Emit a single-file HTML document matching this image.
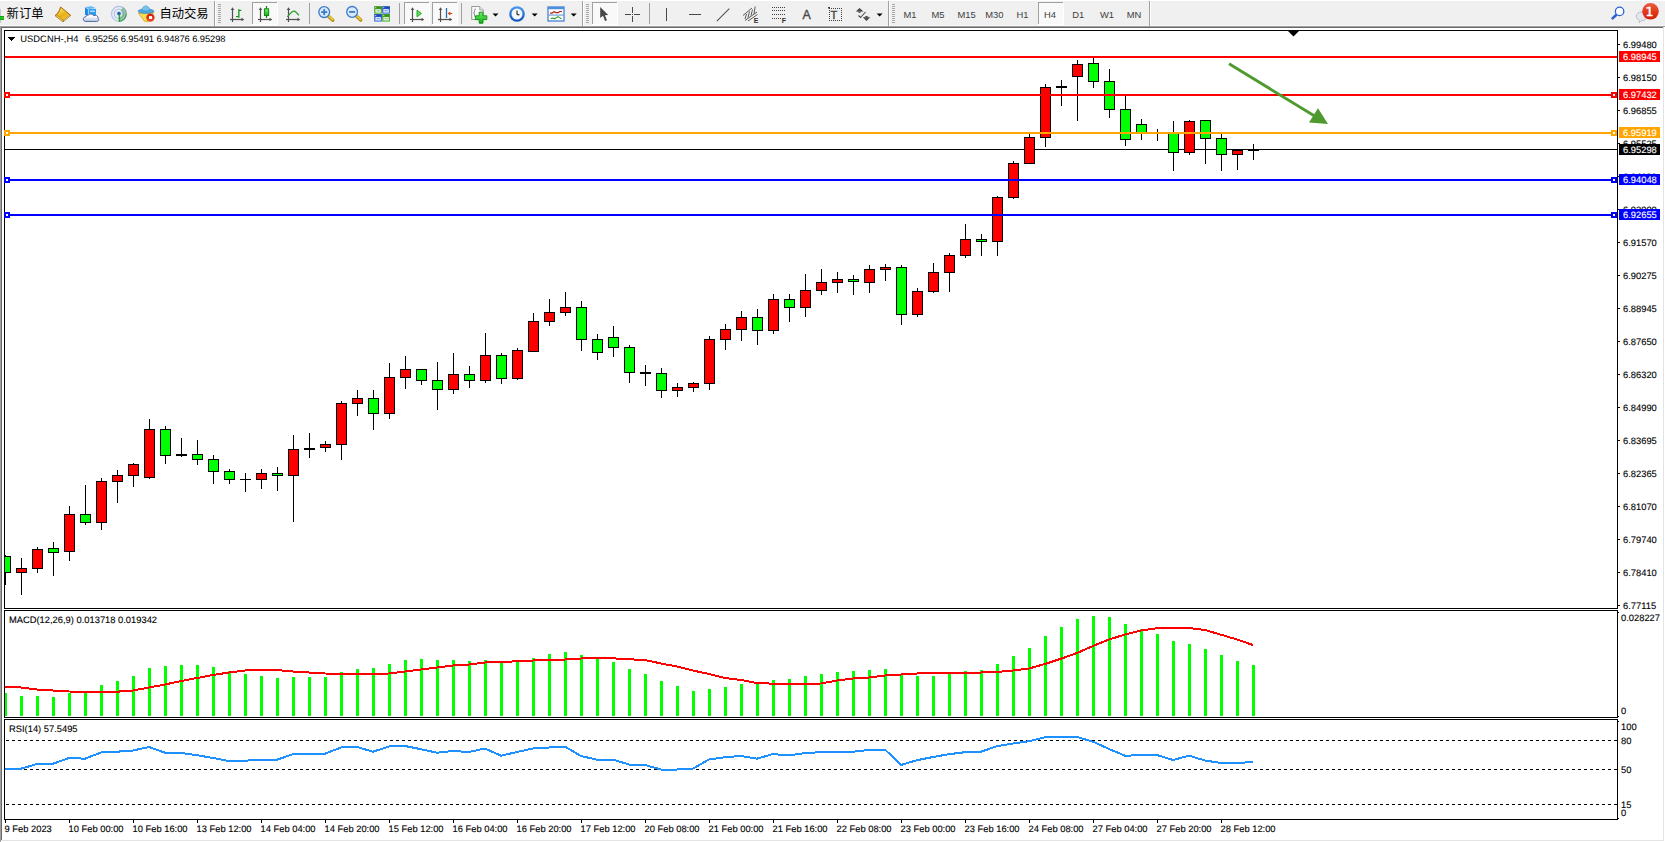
<!DOCTYPE html>
<html lang="zh"><head><meta charset="utf-8"><title>USDCNH-,H4</title>
<style>
html,body{margin:0;padding:0;background:#fff;}
body{width:1665px;height:842px;overflow:hidden;position:relative;font-family:"Liberation Sans","Noto Sans CJK SC",sans-serif;}
#tb{position:absolute;left:0;top:0;width:1665px;height:28px;}
#chart{position:absolute;left:0;top:0;}
#edges div{position:absolute;}
</style></head><body>
<div id="tb"><svg id="tbs" width="1665" height="28" viewBox="0 0 1665 28" style="position:absolute;left:0;top:0">
<defs><linearGradient id="gGold" x1="0.2" y1="0" x2="0.8" y2="1"><stop offset="0" stop-color="#FFE860"/><stop offset="0.55" stop-color="#E9AE16"/><stop offset="1" stop-color="#F4CC40"/></linearGradient><linearGradient id="gBlue" x1="0" y1="0" x2="0" y2="1"><stop offset="0" stop-color="#6FC3F7"/><stop offset="1" stop-color="#1E86E0"/></linearGradient><linearGradient id="gRed" x1="0" y1="0" x2="0" y2="1"><stop offset="0" stop-color="#EA5C3E"/><stop offset="1" stop-color="#D61C05"/></linearGradient><linearGradient id="gGreen" x1="0" y1="0" x2="0" y2="1"><stop offset="0" stop-color="#6CF06C"/><stop offset="1" stop-color="#10B010"/></linearGradient><linearGradient id="gClock" x1="0" y1="0" x2="0" y2="1"><stop offset="0" stop-color="#4A9BEF"/><stop offset="1" stop-color="#0E4FB5"/></linearGradient><linearGradient id="gGq" x1="0" y1="0" x2="0" y2="1"><stop offset="0" stop-color="#2F8A12"/><stop offset="1" stop-color="#55B830"/></linearGradient><linearGradient id="gBq" x1="0" y1="0" x2="0" y2="1"><stop offset="0" stop-color="#1440B0"/><stop offset="1" stop-color="#3A78E8"/></linearGradient><linearGradient id="gCloud" x1="0" y1="0" x2="0" y2="1"><stop offset="0.3" stop-color="#FFFFFF"/><stop offset="1" stop-color="#B4C2DC"/></linearGradient><linearGradient id="gStop" x1="0" y1="0" x2="0" y2="1"><stop offset="0" stop-color="#CC1E06"/><stop offset="1" stop-color="#F04A24"/></linearGradient></defs>
<rect x="0" y="0" width="1665" height="28" fill="#F0F0F0"/>
<rect x="0" y="0" width="1665" height="1" fill="#FFFFFF"/>
<rect x="0" y="25" width="1665" height="1" fill="#F8F8F8"/>
<rect x="0" y="26" width="1665" height="1" fill="#A0A0A0"/>
<rect x="1" y="27" width="1662" height="1" fill="#696969"/>
<rect x="0" y="27" width="1" height="1" fill="#A0A0A0"/>
<rect x="1663" y="27" width="1" height="1" fill="#E3E3E3"/><rect x="1664" y="27" width="1" height="1" fill="#FFFFFF"/>
<rect x="0" y="9" width="1" height="14" fill="#C8C8C8"/>
<rect x="0" y="16" width="4" height="4" fill="#1EC81E" shape-rendering="crispEdges"/><rect x="0" y="16" width="4" height="1" fill="#18A018" shape-rendering="crispEdges"/><rect x="0" y="19" width="4" height="1" fill="#18A018" shape-rendering="crispEdges"/>
<text x="6.6" y="17.7" font-family="Liberation Sans, Noto Sans CJK SC, sans-serif" font-size="12.3" fill="#000">新订单</text>
<g><path d="M60.7 7 L70.8 15.4 L63 21.8 L55 15.6 Q58.6 12.6 59.4 10.4 Q59.9 8.4 60.7 7 Z" fill="#C8941A" stroke="#A06A0A" stroke-width="0.9" stroke-linejoin="round"/><path d="M61 8 L69.3 14.9 L63.3 19.6 L57.3 14.9 Q59.6 12.6 60.2 10.6 Q60.6 9 61 8 Z" fill="url(#gGold)"/><line x1="56.3" y1="15.9" x2="62.8" y2="20.9" stroke="#F6D878" stroke-width="0.9"/><line x1="64" y1="20.4" x2="69.8" y2="15.7" stroke="#EADFB0" stroke-width="0.8"/></g>
<g><polygon points="85,7 88.4,9 88.4,15.6 85,15" fill="#1A8AEA"/><polygon points="85,7 91.5,6.2 96,8.2 88.4,9" fill="#62B8F6"/><rect x="88.4" y="9" width="7.6" height="6.6" fill="#2C9EF5"/><rect x="90.2" y="10.6" width="4.6" height="1.1" fill="#EAF5FF"/><path d="M85.3 7.3 L88.4 9.1 V15" stroke="#D8EEFF" stroke-width="0.6" fill="none"/><path d="M85 21.4 Q82.9 20.6 83.3 18.6 Q83.9 16.6 86 16.7 Q86.5 14.7 88.6 14.9 Q89.6 13.7 91.2 13.9 Q93 14.2 93.6 15.8 Q95 14.9 96.6 15.6 Q98.4 16.6 98.1 18.4 Q99.2 19.5 98.5 20.6 Q97.9 21.5 96.4 21.5 Z" fill="url(#gCloud)" stroke="#44629E" stroke-width="0.9"/></g>
<g fill="none"><path d="M118.9 13.8 L122.9 7 A7.9 7.9 0 0 1 118.9 21.7 Z" fill="#5FB05F" opacity="0.6"/><circle cx="118.9" cy="13.8" r="7.4" stroke="#4A78DC" stroke-width="1.1" opacity="0.4"/><circle cx="118.9" cy="13.8" r="4.8" stroke="#4A78DC" stroke-width="1.1" opacity="0.42"/><circle cx="118.9" cy="13.8" r="2.7" stroke="#DDE6F6" stroke-width="1.2"/><path d="M118.9 21.2 A7.4 7.4 0 0 0 126.3 13.8" stroke="#3C9A4C" stroke-width="1.1" opacity="0.8"/><circle cx="118.9" cy="13.6" r="1.8" fill="#2858D0"/><line x1="119.4" y1="14" x2="119.4" y2="21.7" stroke="#1FA51F" stroke-width="1.3"/></g>
<g><polygon points="138.4,13.2 153.7,12.4 147.8,21.8 144.3,21.1" fill="#F8DC50" stroke="#C89810" stroke-width="0.7" stroke-linejoin="round"/><ellipse cx="146" cy="11.2" rx="7.9" ry="2.3" fill="#4FA6DA" stroke="#2E86BE" stroke-width="0.6"/><path d="M142 10.6 Q142.2 6 145.8 5.9 Q149.4 6 149.6 10.4 Q146 11.6 142 10.6 Z" fill="#74C2EE" stroke="#2E86BE" stroke-width="0.5"/><circle cx="150.4" cy="17.6" r="4.2" fill="url(#gStop)"/><rect x="149" y="16.1" width="3.1" height="2.9" fill="#fff"/></g>
<text x="159.4" y="17.7" font-family="Liberation Sans, Noto Sans CJK SC, sans-serif" font-size="12.3" fill="#000">自动交易</text>
<rect x="214" y="1" width="1" height="25" fill="#A0A0A0" shape-rendering="crispEdges"/><rect x="215" y="1" width="1" height="25" fill="#FFFFFF" shape-rendering="crispEdges"/>
<rect x="218" y="4" width="3" height="1" fill="#A8A8A8" shape-rendering="crispEdges"/>
<rect x="218" y="6" width="3" height="1" fill="#A8A8A8" shape-rendering="crispEdges"/>
<rect x="218" y="8" width="3" height="1" fill="#A8A8A8" shape-rendering="crispEdges"/>
<rect x="218" y="10" width="3" height="1" fill="#A8A8A8" shape-rendering="crispEdges"/>
<rect x="218" y="12" width="3" height="1" fill="#A8A8A8" shape-rendering="crispEdges"/>
<rect x="218" y="14" width="3" height="1" fill="#A8A8A8" shape-rendering="crispEdges"/>
<rect x="218" y="16" width="3" height="1" fill="#A8A8A8" shape-rendering="crispEdges"/>
<rect x="218" y="18" width="3" height="1" fill="#A8A8A8" shape-rendering="crispEdges"/>
<rect x="218" y="20" width="3" height="1" fill="#A8A8A8" shape-rendering="crispEdges"/>
<rect x="218" y="22" width="3" height="1" fill="#A8A8A8" shape-rendering="crispEdges"/>
<g stroke="#505050" stroke-width="1.2" fill="#505050"><line x1="232.5" y1="9" x2="232.5" y2="22"/><line x1="230" y1="19.5" x2="242.5" y2="19.5"/><polygon points="232.5,7.3 230.7,10 234.3,10" stroke="none"/><polygon points="244.3,19.5 241.5,17.7 241.5,21.3" stroke="none"/></g>
<g fill="#169016"><rect x="238.2" y="9.3" width="1.3" height="8.4"/><rect x="239" y="9.8" width="2.3" height="1.2"/><rect x="236" y="16" width="2.6" height="1.2"/></g>
<rect x="252" y="2" width="25" height="22" fill="#F9F9F9" shape-rendering="crispEdges"/>
<rect x="252" y="2" width="25" height="1" fill="#A0A0A0" shape-rendering="crispEdges"/><rect x="252" y="2" width="1" height="22" fill="#A0A0A0" shape-rendering="crispEdges"/>
<rect x="252" y="24" width="26" height="1" fill="#FFFFFF" shape-rendering="crispEdges"/><rect x="277" y="2" width="1" height="22" fill="#FFFFFF" shape-rendering="crispEdges"/>
<g stroke="#505050" stroke-width="1.2" fill="#505050"><line x1="260.5" y1="9" x2="260.5" y2="22"/><line x1="258" y1="19.5" x2="270.5" y2="19.5"/><polygon points="260.5,7.3 258.7,10 262.3,10" stroke="none"/><polygon points="272.3,19.5 269.5,17.7 269.5,21.3" stroke="none"/></g>
<line x1="266.5" y1="6" x2="266.5" y2="18" stroke="#0E800E" stroke-width="1.2"/><rect x="264.4" y="8.8" width="4.3" height="6.8" fill="url(#gGreen)" stroke="#0E800E" stroke-width="0.9"/>
<g stroke="#505050" stroke-width="1.2" fill="#505050"><line x1="288.5" y1="9" x2="288.5" y2="22"/><line x1="286" y1="19.5" x2="298.5" y2="19.5"/><polygon points="288.5,7.3 286.7,10 290.3,10" stroke="none"/><polygon points="300.3,19.5 297.5,17.7 297.5,21.3" stroke="none"/></g>
<path d="M287.3 16.8 Q291 12.5 293 11.3 Q294.5 10.6 296 12.2 Q297.5 14 299 15.2" fill="none" stroke="#2E9E2E" stroke-width="1.3"/>
<rect x="309" y="3" width="1" height="21" fill="#A0A0A0" shape-rendering="crispEdges"/>
<line x1="328.2" y1="15.899999999999999" x2="332.8" y2="20.299999999999997" stroke="#B8900F" stroke-width="3.4" stroke-linecap="round"/><line x1="328.4" y1="15.7" x2="332.59999999999997" y2="19.7" stroke="#EBCB4A" stroke-width="1.6" stroke-linecap="round"/><circle cx="324.2" cy="12.1" r="5.4" fill="#D4E9FB" stroke="#3C7AC8" stroke-width="1.3"/><rect x="321.2" y="11.2" width="6" height="1.8" fill="#3C7AC8"/>
<rect x="323.3" y="9.1" width="1.8" height="6" fill="#3C7AC8"/>
<line x1="356.1" y1="15.7" x2="360.70000000000005" y2="20.1" stroke="#B8900F" stroke-width="3.4" stroke-linecap="round"/><line x1="356.3" y1="15.5" x2="360.5" y2="19.5" stroke="#EBCB4A" stroke-width="1.6" stroke-linecap="round"/><circle cx="352.1" cy="11.9" r="5.4" fill="#D4E9FB" stroke="#3C7AC8" stroke-width="1.3"/><rect x="349.1" y="11.0" width="6" height="1.8" fill="#3C7AC8"/>
<rect x="374.2" y="6.2" width="7.7" height="7.5" fill="url(#gGq)"/><rect x="375.4" y="9.2" width="5.4" height="3.4" fill="#F2F6FA"/><rect x="376.4" y="10.4" width="3.4" height="1" fill="url(#gGq)" opacity="0.7"/><rect x="375.2" y="7.2" width="1" height="1" fill="#E8F0F8"/>
<rect x="382.2" y="6.2" width="7.7" height="7.5" fill="url(#gBq)"/><rect x="383.4" y="9.2" width="5.4" height="3.4" fill="#F2F6FA"/><rect x="384.4" y="10.4" width="3.4" height="1" fill="url(#gBq)" opacity="0.7"/><rect x="383.2" y="7.2" width="1" height="1" fill="#E8F0F8"/>
<rect x="374.2" y="14.1" width="7.7" height="7.5" fill="url(#gBq)"/><rect x="375.4" y="17.1" width="5.4" height="3.4" fill="#F2F6FA"/><rect x="376.4" y="18.3" width="3.4" height="1" fill="url(#gBq)" opacity="0.7"/><rect x="375.2" y="15.1" width="1" height="1" fill="#E8F0F8"/>
<rect x="382.2" y="14.1" width="7.7" height="7.5" fill="url(#gGq)"/><rect x="383.4" y="17.1" width="5.4" height="3.4" fill="#F2F6FA"/><rect x="384.4" y="18.3" width="3.4" height="1" fill="url(#gGq)" opacity="0.7"/><rect x="383.2" y="15.1" width="1" height="1" fill="#E8F0F8"/>
<rect x="399" y="3" width="1" height="21" fill="#A0A0A0" shape-rendering="crispEdges"/>
<rect x="404" y="2" width="25" height="22" fill="#F9F9F9" shape-rendering="crispEdges"/>
<rect x="404" y="2" width="25" height="1" fill="#A0A0A0" shape-rendering="crispEdges"/><rect x="404" y="2" width="1" height="22" fill="#A0A0A0" shape-rendering="crispEdges"/>
<rect x="404" y="24" width="26" height="1" fill="#FFFFFF" shape-rendering="crispEdges"/><rect x="429" y="2" width="1" height="22" fill="#FFFFFF" shape-rendering="crispEdges"/>
<g stroke="#505050" stroke-width="1.2" fill="#505050"><line x1="412.5" y1="9" x2="412.5" y2="22"/><line x1="410" y1="19.5" x2="422.5" y2="19.5"/><polygon points="412.5,7.3 410.7,10 414.3,10" stroke="none"/><polygon points="424.3,19.5 421.5,17.7 421.5,21.3" stroke="none"/></g>
<polygon points="417,10.2 417,16.8 421.4,13.5" fill="#5EE05E" stroke="#18A018" stroke-width="0.9"/>
<rect x="432" y="2" width="25" height="22" fill="#F9F9F9" shape-rendering="crispEdges"/>
<rect x="432" y="2" width="25" height="1" fill="#A0A0A0" shape-rendering="crispEdges"/><rect x="432" y="2" width="1" height="22" fill="#A0A0A0" shape-rendering="crispEdges"/>
<rect x="432" y="24" width="26" height="1" fill="#FFFFFF" shape-rendering="crispEdges"/><rect x="457" y="2" width="1" height="22" fill="#FFFFFF" shape-rendering="crispEdges"/>
<g stroke="#505050" stroke-width="1.2" fill="#505050"><line x1="440.5" y1="9" x2="440.5" y2="22"/><line x1="438" y1="19.5" x2="450.5" y2="19.5"/><polygon points="440.5,7.3 438.7,10 442.3,10" stroke="none"/><polygon points="452.3,19.5 449.5,17.7 449.5,21.3" stroke="none"/></g>
<line x1="446.5" y1="8" x2="446.5" y2="18" stroke="#1E6FB0" stroke-width="1.3"/><polygon points="447.6,13.5 450.3,11.6 450.3,15.4" fill="#D04810"/><rect x="449.5" y="13" width="2.7" height="1" fill="#D04810"/>
<rect x="461" y="3" width="1" height="21" fill="#A0A0A0" shape-rendering="crispEdges"/>
<path d="M471.7 6.5 h8 l3.5 3.5 v9.5 h-11.5 z" fill="#FAFAFA" stroke="#909090" stroke-width="0.9"/><path d="M479.7 6.5 v3.5 h3.5" fill="#E4E4E4" stroke="#909090" stroke-width="0.7"/><path d="M476 9 q-1.5 0 -1.5 1.5 v1.2 q0 1 -1 1.2 q1 0.2 1 1.2 v1.4 q0 1.5 1.5 1.5" fill="none" stroke="#707070" stroke-width="0.8"/><path d="M479.2 12.2 h3.8 v3.6 h3.8 v3.8 h-3.8 v3.6 h-3.8 v-3.6 h-3.8 v-3.8 h3.8 z" fill="url(#gGreen)" stroke="#0F8A0F" stroke-width="0.9"/>
<polygon points="492.5,13.5 498.5,13.5 495.5,16.5" fill="#000"/>
<circle cx="517" cy="14" r="7.8" fill="url(#gClock)"/><circle cx="517" cy="14" r="5.5" fill="#F4F8FD"/><line x1="517" y1="14.3" x2="517" y2="10.6" stroke="#303030" stroke-width="1.2"/><line x1="516.8" y1="14.3" x2="519.4" y2="14.9" stroke="#303030" stroke-width="1.2"/>
<polygon points="531.7,13.5 537.7,13.5 534.7,16.5" fill="#000"/>
<rect x="548" y="7" width="16" height="14" fill="#FDFDFE" stroke="#3A78D0" stroke-width="1.2"/><rect x="548" y="7" width="16" height="2.2" fill="#4A90E0"/><rect x="548.6" y="14.6" width="14.8" height="0.9" fill="#4A80D0"/><polyline points="550,13.2 552,13.2 554,11.8 556,12.6 558,12.6 560,11.5 562,11.5" fill="none" stroke="#B02010" stroke-width="1.2"/><polyline points="551,18.6 553,18 554.5,18.8 556.5,17.6 558,16.6 559.5,17.6 561.5,18.8" fill="none" stroke="#1E9E1E" stroke-width="1.1"/>
<polygon points="570.7,13.5 576.7,13.5 573.7,16.5" fill="#000"/>
<rect x="582" y="1" width="1" height="25" fill="#A0A0A0" shape-rendering="crispEdges"/><rect x="583" y="1" width="1" height="25" fill="#FFFFFF" shape-rendering="crispEdges"/>
<rect x="586" y="4" width="3" height="1" fill="#A8A8A8" shape-rendering="crispEdges"/>
<rect x="586" y="6" width="3" height="1" fill="#A8A8A8" shape-rendering="crispEdges"/>
<rect x="586" y="8" width="3" height="1" fill="#A8A8A8" shape-rendering="crispEdges"/>
<rect x="586" y="10" width="3" height="1" fill="#A8A8A8" shape-rendering="crispEdges"/>
<rect x="586" y="12" width="3" height="1" fill="#A8A8A8" shape-rendering="crispEdges"/>
<rect x="586" y="14" width="3" height="1" fill="#A8A8A8" shape-rendering="crispEdges"/>
<rect x="586" y="16" width="3" height="1" fill="#A8A8A8" shape-rendering="crispEdges"/>
<rect x="586" y="18" width="3" height="1" fill="#A8A8A8" shape-rendering="crispEdges"/>
<rect x="586" y="20" width="3" height="1" fill="#A8A8A8" shape-rendering="crispEdges"/>
<rect x="586" y="22" width="3" height="1" fill="#A8A8A8" shape-rendering="crispEdges"/>
<rect x="592" y="2" width="25" height="22" fill="#F9F9F9" shape-rendering="crispEdges"/>
<rect x="592" y="2" width="25" height="1" fill="#A0A0A0" shape-rendering="crispEdges"/><rect x="592" y="2" width="1" height="22" fill="#A0A0A0" shape-rendering="crispEdges"/>
<rect x="592" y="24" width="26" height="1" fill="#FFFFFF" shape-rendering="crispEdges"/><rect x="617" y="2" width="1" height="22" fill="#FFFFFF" shape-rendering="crispEdges"/>
<polygon points="600.2,6.9 600.2,17.9 603,15.7 605,21 607,20.2 604.9,15.2 608.2,14.9" fill="#484848"/>
<g fill="#484848" shape-rendering="crispEdges"><rect x="625" y="14" width="6" height="1"/><rect x="634" y="14" width="6" height="1"/><rect x="632" y="7" width="1" height="6"/><rect x="632" y="16" width="1" height="6"/><rect x="632" y="14" width="1" height="1"/></g>
<rect x="649" y="3" width="1" height="21" fill="#A0A0A0" shape-rendering="crispEdges"/>
<rect x="666" y="8" width="1" height="13" fill="#484848" shape-rendering="crispEdges"/>
<rect x="689" y="14" width="12" height="1" fill="#484848" shape-rendering="crispEdges"/>
<line x1="716.8" y1="21.1" x2="729.3" y2="8.6" stroke="#505050" stroke-width="1.1"/>
<g stroke="#484848" stroke-width="0.9" fill="none"><line x1="743" y1="15.5" x2="752" y2="8"/><line x1="745" y1="20.5" x2="757" y2="12"/><line x1="748" y1="21" x2="757.5" y2="14.5"/><path d="M745 19 l1.5 -5 M748 17.5 l1.5 -6 M751 15.5 l1.5 -6 M754 14 l1.2 -7.5"/></g>
<text x="753.8" y="22.7" font-family="Liberation Sans, Noto Sans CJK SC, sans-serif" font-size="7" font-weight="bold" fill="#303030">E</text>
<line x1="772" y1="7.5" x2="786" y2="7.5" stroke="#404040" stroke-width="1" stroke-dasharray="1,1" shape-rendering="crispEdges"/>
<line x1="772" y1="10.5" x2="786" y2="10.5" stroke="#404040" stroke-width="1" stroke-dasharray="1,1" shape-rendering="crispEdges"/>
<line x1="772" y1="14.5" x2="786" y2="14.5" stroke="#404040" stroke-width="1" stroke-dasharray="1,1" shape-rendering="crispEdges"/>
<line x1="772" y1="18.5" x2="782" y2="18.5" stroke="#404040" stroke-width="1" stroke-dasharray="1,1" shape-rendering="crispEdges"/>
<text x="781.8" y="22.7" font-family="Liberation Sans, Noto Sans CJK SC, sans-serif" font-size="7" font-weight="bold" fill="#303030">F</text>
<text x="802.6" y="19.1" font-family="Liberation Sans, Noto Sans CJK SC, sans-serif" font-size="12.4" fill="#484848" stroke="#484848" stroke-width="0.35">A</text>
<g stroke="#404040" stroke-width="1" stroke-dasharray="1,1" shape-rendering="crispEdges"><line x1="829" y1="8.5" x2="842" y2="8.5"/><line x1="829" y1="20.5" x2="842" y2="20.5"/><line x1="829.5" y1="8" x2="829.5" y2="21"/><line x1="841.5" y1="8" x2="841.5" y2="21"/></g>
<rect x="828" y="7" width="2" height="1.5" fill="#404040"/>
<text x="830.6" y="18.8" font-family="Liberation Sans, Noto Sans CJK SC, sans-serif" font-size="11" fill="#484848" stroke="#484848" stroke-width="0.4">T</text>
<g fill="#484848"><polygon points="859.5,8 863.5,11.5 855.8,11.5"/><polygon points="859.5,13 857,11.5 862,11.5"/><polygon points="866.5,21 870.3,17.3 862.8,17.3"/><polygon points="866.5,15.8 869,17.3 864,17.3"/><polyline points="858.5,15.5 860.5,17.5 865.5,12" fill="none" stroke="#484848" stroke-width="1.1"/></g>
<polygon points="876.6,13.5 882.6,13.5 879.6,16.5" fill="#000"/>
<rect x="888" y="1" width="1" height="25" fill="#A0A0A0" shape-rendering="crispEdges"/><rect x="889" y="1" width="1" height="25" fill="#FFFFFF" shape-rendering="crispEdges"/>
<rect x="892" y="4" width="3" height="1" fill="#A8A8A8" shape-rendering="crispEdges"/>
<rect x="892" y="6" width="3" height="1" fill="#A8A8A8" shape-rendering="crispEdges"/>
<rect x="892" y="8" width="3" height="1" fill="#A8A8A8" shape-rendering="crispEdges"/>
<rect x="892" y="10" width="3" height="1" fill="#A8A8A8" shape-rendering="crispEdges"/>
<rect x="892" y="12" width="3" height="1" fill="#A8A8A8" shape-rendering="crispEdges"/>
<rect x="892" y="14" width="3" height="1" fill="#A8A8A8" shape-rendering="crispEdges"/>
<rect x="892" y="16" width="3" height="1" fill="#A8A8A8" shape-rendering="crispEdges"/>
<rect x="892" y="18" width="3" height="1" fill="#A8A8A8" shape-rendering="crispEdges"/>
<rect x="892" y="20" width="3" height="1" fill="#A8A8A8" shape-rendering="crispEdges"/>
<rect x="892" y="22" width="3" height="1" fill="#A8A8A8" shape-rendering="crispEdges"/>
<rect x="1038" y="2" width="25" height="22" fill="#F9F9F9" shape-rendering="crispEdges"/>
<rect x="1038" y="2" width="25" height="1" fill="#A0A0A0" shape-rendering="crispEdges"/><rect x="1038" y="2" width="1" height="22" fill="#A0A0A0" shape-rendering="crispEdges"/>
<rect x="1038" y="24" width="26" height="1" fill="#FFFFFF" shape-rendering="crispEdges"/><rect x="1063" y="2" width="1" height="22" fill="#FFFFFF" shape-rendering="crispEdges"/>
<text x="910" y="18" text-anchor="middle" font-family="Liberation Sans, Noto Sans CJK SC, sans-serif" font-size="9.4" fill="#404040">M1</text>
<text x="938" y="18" text-anchor="middle" font-family="Liberation Sans, Noto Sans CJK SC, sans-serif" font-size="9.4" fill="#404040">M5</text>
<text x="966.6" y="18" text-anchor="middle" font-family="Liberation Sans, Noto Sans CJK SC, sans-serif" font-size="9.4" fill="#404040">M15</text>
<text x="994.4" y="18" text-anchor="middle" font-family="Liberation Sans, Noto Sans CJK SC, sans-serif" font-size="9.4" fill="#404040">M30</text>
<text x="1022.5" y="18" text-anchor="middle" font-family="Liberation Sans, Noto Sans CJK SC, sans-serif" font-size="9.4" fill="#404040">H1</text>
<text x="1050" y="18" text-anchor="middle" font-family="Liberation Sans, Noto Sans CJK SC, sans-serif" font-size="9.4" fill="#404040">H4</text>
<text x="1078.2" y="18" text-anchor="middle" font-family="Liberation Sans, Noto Sans CJK SC, sans-serif" font-size="9.4" fill="#404040">D1</text>
<text x="1107" y="18" text-anchor="middle" font-family="Liberation Sans, Noto Sans CJK SC, sans-serif" font-size="9.4" fill="#404040">W1</text>
<text x="1134" y="18" text-anchor="middle" font-family="Liberation Sans, Noto Sans CJK SC, sans-serif" font-size="9.4" fill="#404040">MN</text>
<rect x="1149" y="1" width="1" height="25" fill="#A0A0A0" shape-rendering="crispEdges"/><rect x="1150" y="1" width="1" height="25" fill="#FFFFFF" shape-rendering="crispEdges"/>
<line x1="1616.4" y1="14.7" x2="1612.6" y2="18.4" stroke="#2C62D2" stroke-width="2.6" stroke-linecap="round"/><circle cx="1619.6" cy="11.4" r="4.2" fill="#FDFDFF" stroke="#2C62D2" stroke-width="1.3"/>
<path d="M1636.3 16.3 a5.4 4.4 0 1 1 5 4.4 l-2 2 l0.1 -2.4 a5.4 4.4 0 0 1 -3.1 -4 z" fill="#E6E8F0" stroke="#B4B6BE" stroke-width="0.9"/>
<circle cx="1650.5" cy="11.3" r="8.3" fill="url(#gRed)"/>
<text x="1649.6" y="16.1" text-anchor="middle" font-family="DejaVu Sans, sans-serif" font-size="12.5" fill="#fff" stroke="#fff" stroke-width="0.5">1</text>
</svg></div>
<div id="edges">
<div style="left:0;top:28px;width:1px;height:814px;background:#A0A0A0"></div>
<div style="left:1px;top:28px;width:1px;height:813px;background:#696969"></div>
<div style="left:1663px;top:28px;width:1px;height:813px;background:#E3E3E3"></div>
<div style="left:1px;top:840px;width:1663px;height:1px;background:#E3E3E3"></div>
</div>
<svg id="chart" width="1665" height="842" viewBox="0 0 1665 842" shape-rendering="crispEdges" text-rendering="geometricPrecision">
<rect x="5" y="149" width="1612" height="1" fill="#000"/>
<clipPath id="cp"><rect x="5" y="31" width="1612" height="577"/></clipPath><g clip-path="url(#cp)">
<rect x="5" y="555" width="1" height="30" fill="#000"/>
<rect x="0" y="556" width="11" height="17" fill="#000"/>
<rect x="1" y="557" width="9" height="15" fill="#00FF00"/>
<rect x="21" y="558" width="1" height="37" fill="#000"/>
<rect x="16" y="568" width="11" height="5" fill="#000"/>
<rect x="17" y="569" width="9" height="3" fill="#FF0000"/>
<rect x="37" y="547" width="1" height="26" fill="#000"/>
<rect x="32" y="549" width="11" height="20" fill="#000"/>
<rect x="33" y="550" width="9" height="18" fill="#FF0000"/>
<rect x="53" y="542" width="1" height="34" fill="#000"/>
<rect x="48" y="548" width="11" height="5" fill="#000"/>
<rect x="49" y="549" width="9" height="3" fill="#00FF00"/>
<rect x="69" y="506" width="1" height="55" fill="#000"/>
<rect x="64" y="514" width="11" height="38" fill="#000"/>
<rect x="65" y="515" width="9" height="36" fill="#FF0000"/>
<rect x="85" y="485" width="1" height="40" fill="#000"/>
<rect x="80" y="514" width="11" height="9" fill="#000"/>
<rect x="81" y="515" width="9" height="7" fill="#00FF00"/>
<rect x="101" y="478" width="1" height="52" fill="#000"/>
<rect x="96" y="481" width="11" height="42" fill="#000"/>
<rect x="97" y="482" width="9" height="40" fill="#FF0000"/>
<rect x="117" y="470" width="1" height="33" fill="#000"/>
<rect x="112" y="475" width="11" height="7" fill="#000"/>
<rect x="113" y="476" width="9" height="5" fill="#FF0000"/>
<rect x="133" y="463" width="1" height="24" fill="#000"/>
<rect x="128" y="464" width="11" height="12" fill="#000"/>
<rect x="129" y="465" width="9" height="10" fill="#FF0000"/>
<rect x="149" y="419" width="1" height="60" fill="#000"/>
<rect x="144" y="429" width="11" height="49" fill="#000"/>
<rect x="145" y="430" width="9" height="47" fill="#FF0000"/>
<rect x="165" y="426" width="1" height="38" fill="#000"/>
<rect x="160" y="429" width="11" height="27" fill="#000"/>
<rect x="161" y="430" width="9" height="25" fill="#00FF00"/>
<rect x="181" y="438" width="1" height="19" fill="#000"/>
<rect x="176" y="454" width="11" height="2" fill="#000"/>
<rect x="197" y="440" width="1" height="25" fill="#000"/>
<rect x="192" y="454" width="11" height="6" fill="#000"/>
<rect x="193" y="455" width="9" height="4" fill="#00FF00"/>
<rect x="213" y="455" width="1" height="29" fill="#000"/>
<rect x="208" y="459" width="11" height="13" fill="#000"/>
<rect x="209" y="460" width="9" height="11" fill="#00FF00"/>
<rect x="229" y="469" width="1" height="15" fill="#000"/>
<rect x="224" y="471" width="11" height="9" fill="#000"/>
<rect x="225" y="472" width="9" height="7" fill="#00FF00"/>
<rect x="245" y="473" width="1" height="19" fill="#000"/>
<rect x="240" y="479" width="11" height="1" fill="#000"/>
<rect x="261" y="469" width="1" height="20" fill="#000"/>
<rect x="256" y="473" width="11" height="7" fill="#000"/>
<rect x="257" y="474" width="9" height="5" fill="#FF0000"/>
<rect x="277" y="467" width="1" height="24" fill="#000"/>
<rect x="272" y="473" width="11" height="3" fill="#000"/>
<rect x="273" y="474" width="9" height="1" fill="#00FF00"/>
<rect x="293" y="435" width="1" height="87" fill="#000"/>
<rect x="288" y="449" width="11" height="27" fill="#000"/>
<rect x="289" y="450" width="9" height="25" fill="#FF0000"/>
<rect x="309" y="433" width="1" height="25" fill="#000"/>
<rect x="304" y="448" width="11" height="2" fill="#000"/>
<rect x="325" y="441" width="1" height="11" fill="#000"/>
<rect x="320" y="444" width="11" height="4" fill="#000"/>
<rect x="321" y="445" width="9" height="2" fill="#FF0000"/>
<rect x="341" y="401" width="1" height="59" fill="#000"/>
<rect x="336" y="403" width="11" height="42" fill="#000"/>
<rect x="337" y="404" width="9" height="40" fill="#FF0000"/>
<rect x="357" y="390" width="1" height="26" fill="#000"/>
<rect x="352" y="398" width="11" height="6" fill="#000"/>
<rect x="353" y="399" width="9" height="4" fill="#FF0000"/>
<rect x="373" y="390" width="1" height="40" fill="#000"/>
<rect x="368" y="398" width="11" height="16" fill="#000"/>
<rect x="369" y="399" width="9" height="14" fill="#00FF00"/>
<rect x="389" y="363" width="1" height="56" fill="#000"/>
<rect x="384" y="377" width="11" height="37" fill="#000"/>
<rect x="385" y="378" width="9" height="35" fill="#FF0000"/>
<rect x="405" y="356" width="1" height="33" fill="#000"/>
<rect x="400" y="369" width="11" height="9" fill="#000"/>
<rect x="401" y="370" width="9" height="7" fill="#FF0000"/>
<rect x="421" y="369" width="1" height="16" fill="#000"/>
<rect x="416" y="369" width="11" height="12" fill="#000"/>
<rect x="417" y="370" width="9" height="10" fill="#00FF00"/>
<rect x="437" y="362" width="1" height="48" fill="#000"/>
<rect x="432" y="380" width="11" height="10" fill="#000"/>
<rect x="433" y="381" width="9" height="8" fill="#00FF00"/>
<rect x="453" y="353" width="1" height="41" fill="#000"/>
<rect x="448" y="374" width="11" height="16" fill="#000"/>
<rect x="449" y="375" width="9" height="14" fill="#FF0000"/>
<rect x="469" y="366" width="1" height="22" fill="#000"/>
<rect x="464" y="374" width="11" height="7" fill="#000"/>
<rect x="465" y="375" width="9" height="5" fill="#00FF00"/>
<rect x="485" y="333" width="1" height="50" fill="#000"/>
<rect x="480" y="355" width="11" height="26" fill="#000"/>
<rect x="481" y="356" width="9" height="24" fill="#FF0000"/>
<rect x="501" y="353" width="1" height="31" fill="#000"/>
<rect x="496" y="355" width="11" height="24" fill="#000"/>
<rect x="497" y="356" width="9" height="22" fill="#00FF00"/>
<rect x="517" y="348" width="1" height="32" fill="#000"/>
<rect x="512" y="350" width="11" height="29" fill="#000"/>
<rect x="513" y="351" width="9" height="27" fill="#FF0000"/>
<rect x="533" y="313" width="1" height="39" fill="#000"/>
<rect x="528" y="321" width="11" height="31" fill="#000"/>
<rect x="529" y="322" width="9" height="29" fill="#FF0000"/>
<rect x="549" y="299" width="1" height="27" fill="#000"/>
<rect x="544" y="312" width="11" height="10" fill="#000"/>
<rect x="545" y="313" width="9" height="8" fill="#FF0000"/>
<rect x="565" y="292" width="1" height="24" fill="#000"/>
<rect x="560" y="307" width="11" height="6" fill="#000"/>
<rect x="561" y="308" width="9" height="4" fill="#FF0000"/>
<rect x="581" y="301" width="1" height="50" fill="#000"/>
<rect x="576" y="307" width="11" height="33" fill="#000"/>
<rect x="577" y="308" width="9" height="31" fill="#00FF00"/>
<rect x="597" y="334" width="1" height="26" fill="#000"/>
<rect x="592" y="339" width="11" height="14" fill="#000"/>
<rect x="593" y="340" width="9" height="12" fill="#00FF00"/>
<rect x="613" y="326" width="1" height="31" fill="#000"/>
<rect x="608" y="337" width="11" height="11" fill="#000"/>
<rect x="609" y="338" width="9" height="9" fill="#00FF00"/>
<rect x="629" y="345" width="1" height="38" fill="#000"/>
<rect x="624" y="347" width="11" height="26" fill="#000"/>
<rect x="625" y="348" width="9" height="24" fill="#00FF00"/>
<rect x="645" y="365" width="1" height="21" fill="#000"/>
<rect x="640" y="372" width="11" height="2" fill="#000"/>
<rect x="661" y="368" width="1" height="30" fill="#000"/>
<rect x="656" y="373" width="11" height="18" fill="#000"/>
<rect x="657" y="374" width="9" height="16" fill="#00FF00"/>
<rect x="677" y="383" width="1" height="14" fill="#000"/>
<rect x="672" y="387" width="11" height="4" fill="#000"/>
<rect x="673" y="388" width="9" height="2" fill="#FF0000"/>
<rect x="693" y="382" width="1" height="10" fill="#000"/>
<rect x="688" y="383" width="11" height="5" fill="#000"/>
<rect x="689" y="384" width="9" height="3" fill="#FF0000"/>
<rect x="709" y="336" width="1" height="54" fill="#000"/>
<rect x="704" y="339" width="11" height="45" fill="#000"/>
<rect x="705" y="340" width="9" height="43" fill="#FF0000"/>
<rect x="725" y="324" width="1" height="26" fill="#000"/>
<rect x="720" y="329" width="11" height="11" fill="#000"/>
<rect x="721" y="330" width="9" height="9" fill="#FF0000"/>
<rect x="741" y="311" width="1" height="30" fill="#000"/>
<rect x="736" y="317" width="11" height="13" fill="#000"/>
<rect x="737" y="318" width="9" height="11" fill="#FF0000"/>
<rect x="757" y="309" width="1" height="36" fill="#000"/>
<rect x="752" y="317" width="11" height="14" fill="#000"/>
<rect x="753" y="318" width="9" height="12" fill="#00FF00"/>
<rect x="773" y="294" width="1" height="40" fill="#000"/>
<rect x="768" y="299" width="11" height="32" fill="#000"/>
<rect x="769" y="300" width="9" height="30" fill="#FF0000"/>
<rect x="789" y="294" width="1" height="28" fill="#000"/>
<rect x="784" y="299" width="11" height="9" fill="#000"/>
<rect x="785" y="300" width="9" height="7" fill="#00FF00"/>
<rect x="805" y="274" width="1" height="43" fill="#000"/>
<rect x="800" y="290" width="11" height="18" fill="#000"/>
<rect x="801" y="291" width="9" height="16" fill="#FF0000"/>
<rect x="821" y="269" width="1" height="26" fill="#000"/>
<rect x="816" y="282" width="11" height="9" fill="#000"/>
<rect x="817" y="283" width="9" height="7" fill="#FF0000"/>
<rect x="837" y="272" width="1" height="21" fill="#000"/>
<rect x="832" y="279" width="11" height="4" fill="#000"/>
<rect x="833" y="280" width="9" height="2" fill="#FF0000"/>
<rect x="853" y="275" width="1" height="20" fill="#000"/>
<rect x="848" y="279" width="11" height="3" fill="#000"/>
<rect x="849" y="280" width="9" height="1" fill="#00FF00"/>
<rect x="869" y="265" width="1" height="28" fill="#000"/>
<rect x="864" y="269" width="11" height="14" fill="#000"/>
<rect x="865" y="270" width="9" height="12" fill="#FF0000"/>
<rect x="885" y="264" width="1" height="17" fill="#000"/>
<rect x="880" y="267" width="11" height="3" fill="#000"/>
<rect x="881" y="268" width="9" height="1" fill="#FF0000"/>
<rect x="901" y="265" width="1" height="60" fill="#000"/>
<rect x="896" y="267" width="11" height="48" fill="#000"/>
<rect x="897" y="268" width="9" height="46" fill="#00FF00"/>
<rect x="917" y="288" width="1" height="29" fill="#000"/>
<rect x="912" y="291" width="11" height="24" fill="#000"/>
<rect x="913" y="292" width="9" height="22" fill="#FF0000"/>
<rect x="933" y="263" width="1" height="30" fill="#000"/>
<rect x="928" y="272" width="11" height="20" fill="#000"/>
<rect x="929" y="273" width="9" height="18" fill="#FF0000"/>
<rect x="949" y="253" width="1" height="39" fill="#000"/>
<rect x="944" y="255" width="11" height="18" fill="#000"/>
<rect x="945" y="256" width="9" height="16" fill="#FF0000"/>
<rect x="965" y="224" width="1" height="34" fill="#000"/>
<rect x="960" y="239" width="11" height="17" fill="#000"/>
<rect x="961" y="240" width="9" height="15" fill="#FF0000"/>
<rect x="981" y="234" width="1" height="22" fill="#000"/>
<rect x="976" y="239" width="11" height="3" fill="#000"/>
<rect x="977" y="240" width="9" height="1" fill="#00FF00"/>
<rect x="997" y="196" width="1" height="60" fill="#000"/>
<rect x="992" y="197" width="11" height="45" fill="#000"/>
<rect x="993" y="198" width="9" height="43" fill="#FF0000"/>
<rect x="1013" y="161" width="1" height="38" fill="#000"/>
<rect x="1008" y="163" width="11" height="35" fill="#000"/>
<rect x="1009" y="164" width="9" height="33" fill="#FF0000"/>
<rect x="1029" y="134" width="1" height="30" fill="#000"/>
<rect x="1024" y="137" width="11" height="27" fill="#000"/>
<rect x="1025" y="138" width="9" height="25" fill="#FF0000"/>
<rect x="1045" y="84" width="1" height="63" fill="#000"/>
<rect x="1040" y="87" width="11" height="51" fill="#000"/>
<rect x="1041" y="88" width="9" height="49" fill="#FF0000"/>
<rect x="1061" y="80" width="1" height="26" fill="#000"/>
<rect x="1056" y="86" width="11" height="2" fill="#000"/>
<rect x="1077" y="60" width="1" height="61" fill="#000"/>
<rect x="1072" y="64" width="11" height="13" fill="#000"/>
<rect x="1073" y="65" width="9" height="11" fill="#FF0000"/>
<rect x="1093" y="57" width="1" height="31" fill="#000"/>
<rect x="1088" y="63" width="11" height="19" fill="#000"/>
<rect x="1089" y="64" width="9" height="17" fill="#00FF00"/>
<rect x="1109" y="69" width="1" height="49" fill="#000"/>
<rect x="1104" y="81" width="11" height="29" fill="#000"/>
<rect x="1105" y="82" width="9" height="27" fill="#00FF00"/>
<rect x="1125" y="96" width="1" height="50" fill="#000"/>
<rect x="1120" y="109" width="11" height="31" fill="#000"/>
<rect x="1121" y="110" width="9" height="29" fill="#00FF00"/>
<rect x="1141" y="119" width="1" height="21" fill="#000"/>
<rect x="1136" y="124" width="11" height="10" fill="#000"/>
<rect x="1137" y="125" width="9" height="8" fill="#00FF00"/>
<rect x="1157" y="129" width="1" height="12" fill="#000"/>
<rect x="1152" y="133" width="11" height="1" fill="#000"/>
<rect x="1173" y="121" width="1" height="50" fill="#000"/>
<rect x="1168" y="133" width="11" height="20" fill="#000"/>
<rect x="1169" y="134" width="9" height="18" fill="#00FF00"/>
<rect x="1189" y="120" width="1" height="35" fill="#000"/>
<rect x="1184" y="121" width="11" height="32" fill="#000"/>
<rect x="1185" y="122" width="9" height="30" fill="#FF0000"/>
<rect x="1205" y="120" width="1" height="44" fill="#000"/>
<rect x="1200" y="120" width="11" height="19" fill="#000"/>
<rect x="1201" y="121" width="9" height="17" fill="#00FF00"/>
<rect x="1221" y="134" width="1" height="37" fill="#000"/>
<rect x="1216" y="138" width="11" height="17" fill="#000"/>
<rect x="1217" y="139" width="9" height="15" fill="#00FF00"/>
<rect x="1237" y="150" width="1" height="20" fill="#000"/>
<rect x="1232" y="150" width="11" height="5" fill="#000"/>
<rect x="1233" y="151" width="9" height="3" fill="#FF0000"/>
<rect x="1253" y="144" width="1" height="16" fill="#000"/>
<rect x="1248" y="149" width="11" height="2" fill="#000"/>
</g>
<rect x="5" y="56" width="1612" height="2" fill="#FF0000"/>
<rect x="5" y="94" width="1612" height="2" fill="#FF0000"/>
<rect x="5" y="132" width="1612" height="2" fill="#FFA500"/>
<rect x="5" y="179" width="1612" height="2" fill="#0000FF"/>
<rect x="5" y="214" width="1612" height="2" fill="#0000FF"/>
<g shape-rendering="geometricPrecision"><line x1="1229" y1="63.8" x2="1315" y2="116.2" stroke="#4E9A2E" stroke-width="2.8"/><polygon points="1328,124 1318,108.3 1309,122.6" fill="#4E9A2E"/></g>
<polygon points="1288,31 1299,31 1293.5,36.5" fill="#000" shape-rendering="geometricPrecision"/>
<rect x="4" y="693" width="3" height="23" fill="#00FF00"/>
<rect x="20" y="696" width="3" height="20" fill="#00FF00"/>
<rect x="36" y="696" width="3" height="20" fill="#00FF00"/>
<rect x="52" y="697" width="3" height="19" fill="#00FF00"/>
<rect x="68" y="693" width="3" height="23" fill="#00FF00"/>
<rect x="84" y="693" width="3" height="23" fill="#00FF00"/>
<rect x="100" y="685" width="3" height="31" fill="#00FF00"/>
<rect x="116" y="681" width="3" height="35" fill="#00FF00"/>
<rect x="132" y="676" width="3" height="40" fill="#00FF00"/>
<rect x="148" y="668" width="3" height="48" fill="#00FF00"/>
<rect x="164" y="666" width="3" height="50" fill="#00FF00"/>
<rect x="180" y="665" width="3" height="51" fill="#00FF00"/>
<rect x="196" y="665" width="3" height="51" fill="#00FF00"/>
<rect x="212" y="667" width="3" height="49" fill="#00FF00"/>
<rect x="228" y="671" width="3" height="45" fill="#00FF00"/>
<rect x="244" y="674" width="3" height="42" fill="#00FF00"/>
<rect x="260" y="676" width="3" height="40" fill="#00FF00"/>
<rect x="276" y="678" width="3" height="38" fill="#00FF00"/>
<rect x="292" y="677" width="3" height="39" fill="#00FF00"/>
<rect x="308" y="677" width="3" height="39" fill="#00FF00"/>
<rect x="324" y="677" width="3" height="39" fill="#00FF00"/>
<rect x="340" y="672" width="3" height="44" fill="#00FF00"/>
<rect x="356" y="669" width="3" height="47" fill="#00FF00"/>
<rect x="372" y="668" width="3" height="48" fill="#00FF00"/>
<rect x="388" y="664" width="3" height="52" fill="#00FF00"/>
<rect x="404" y="660" width="3" height="56" fill="#00FF00"/>
<rect x="420" y="659" width="3" height="57" fill="#00FF00"/>
<rect x="436" y="660" width="3" height="56" fill="#00FF00"/>
<rect x="452" y="660" width="3" height="56" fill="#00FF00"/>
<rect x="468" y="661" width="3" height="55" fill="#00FF00"/>
<rect x="484" y="660" width="3" height="56" fill="#00FF00"/>
<rect x="500" y="662" width="3" height="54" fill="#00FF00"/>
<rect x="516" y="662" width="3" height="54" fill="#00FF00"/>
<rect x="532" y="658" width="3" height="58" fill="#00FF00"/>
<rect x="548" y="654" width="3" height="62" fill="#00FF00"/>
<rect x="564" y="652" width="3" height="64" fill="#00FF00"/>
<rect x="580" y="655" width="3" height="61" fill="#00FF00"/>
<rect x="596" y="658" width="3" height="58" fill="#00FF00"/>
<rect x="612" y="662" width="3" height="54" fill="#00FF00"/>
<rect x="628" y="669" width="3" height="47" fill="#00FF00"/>
<rect x="644" y="674" width="3" height="42" fill="#00FF00"/>
<rect x="660" y="681" width="3" height="35" fill="#00FF00"/>
<rect x="676" y="686" width="3" height="30" fill="#00FF00"/>
<rect x="692" y="691" width="3" height="25" fill="#00FF00"/>
<rect x="708" y="689" width="3" height="27" fill="#00FF00"/>
<rect x="724" y="687" width="3" height="29" fill="#00FF00"/>
<rect x="740" y="684" width="3" height="32" fill="#00FF00"/>
<rect x="756" y="684" width="3" height="32" fill="#00FF00"/>
<rect x="772" y="680" width="3" height="36" fill="#00FF00"/>
<rect x="788" y="679" width="3" height="37" fill="#00FF00"/>
<rect x="804" y="676" width="3" height="40" fill="#00FF00"/>
<rect x="820" y="674" width="3" height="42" fill="#00FF00"/>
<rect x="836" y="672" width="3" height="44" fill="#00FF00"/>
<rect x="852" y="671" width="3" height="45" fill="#00FF00"/>
<rect x="868" y="670" width="3" height="46" fill="#00FF00"/>
<rect x="884" y="669" width="3" height="47" fill="#00FF00"/>
<rect x="900" y="675" width="3" height="41" fill="#00FF00"/>
<rect x="916" y="676" width="3" height="40" fill="#00FF00"/>
<rect x="932" y="676" width="3" height="40" fill="#00FF00"/>
<rect x="948" y="674" width="3" height="42" fill="#00FF00"/>
<rect x="964" y="671" width="3" height="45" fill="#00FF00"/>
<rect x="980" y="670" width="3" height="46" fill="#00FF00"/>
<rect x="996" y="664" width="3" height="52" fill="#00FF00"/>
<rect x="1012" y="656" width="3" height="60" fill="#00FF00"/>
<rect x="1028" y="648" width="3" height="68" fill="#00FF00"/>
<rect x="1044" y="636" width="3" height="80" fill="#00FF00"/>
<rect x="1060" y="627" width="3" height="89" fill="#00FF00"/>
<rect x="1076" y="619" width="3" height="97" fill="#00FF00"/>
<rect x="1092" y="616" width="3" height="100" fill="#00FF00"/>
<rect x="1108" y="617" width="3" height="99" fill="#00FF00"/>
<rect x="1124" y="624" width="3" height="92" fill="#00FF00"/>
<rect x="1140" y="629" width="3" height="87" fill="#00FF00"/>
<rect x="1156" y="634" width="3" height="82" fill="#00FF00"/>
<rect x="1172" y="641" width="3" height="75" fill="#00FF00"/>
<rect x="1188" y="644" width="3" height="72" fill="#00FF00"/>
<rect x="1204" y="649" width="3" height="67" fill="#00FF00"/>
<rect x="1220" y="655" width="3" height="61" fill="#00FF00"/>
<rect x="1236" y="661" width="3" height="55" fill="#00FF00"/>
<rect x="1252" y="665" width="3" height="51" fill="#00FF00"/>
<polyline points="5,687 21,687.5 37,689.5 53,690.5 69,691.5 85,691.7 101,691.7 117,691.7 133,690.5 149,687.5 165,684.5 181,681 197,678 213,675 229,672.5 245,670.5 261,669.5 277,670 293,671.5 309,672.5 325,673.5 341,673.7 357,673.7 373,673.7 389,673.5 405,671.5 421,669.5 437,667.5 453,665.5 469,664.5 485,662.5 501,662 517,661.3 533,660.5 549,660 565,659.5 581,658.5 597,658 613,658.3 629,659.3 645,660 661,663.5 677,666.5 693,670.5 709,674 725,678 741,680 757,683 773,683.7 789,683.7 805,683.7 821,683.5 837,680.5 853,678.5 869,677.5 885,675.5 901,674.5 917,673.5 933,673 949,673 965,673 981,672.5 997,672 1013,670.5 1029,668.5 1045,664 1061,658.7 1077,653 1093,646 1109,639.5 1125,634.5 1141,630.5 1157,628.2 1173,627.5 1189,628 1205,630 1221,634.7 1237,639.5 1253,645" fill="none" stroke="#FF0000" stroke-width="2" shape-rendering="crispEdges"/>
<line x1="5" y1="740.5" x2="1617" y2="740.5" stroke="#000" stroke-width="1" stroke-dasharray="3,3" stroke-dashoffset="5"/>
<line x1="5" y1="769.5" x2="1617" y2="769.5" stroke="#000" stroke-width="1" stroke-dasharray="3,3" stroke-dashoffset="5"/>
<line x1="5" y1="804.5" x2="1617" y2="804.5" stroke="#000" stroke-width="1" stroke-dasharray="3,3" stroke-dashoffset="5"/>
<polyline points="5,769 21,768.7 37,764 53,763.7 69,758 85,758.7 101,752.5 117,751.7 133,750.5 149,747 165,752.7 181,753 197,755.2 213,758 229,761 245,760.7 261,759.7 277,759.7 293,754.2 309,754 325,753.7 341,747.5 357,747 373,751.7 389,746.5 405,746 421,749.2 437,752.7 453,751 469,752 485,748.5 501,755.7 517,752 533,748.5 549,747.5 565,746.7 581,756 597,759.7 613,759.7 629,764.5 645,765 661,769.5 677,769.5 693,768.5 709,759.5 725,757.2 741,756 757,758.7 773,754 789,755.5 805,753 821,752.2 837,752 853,751.7 869,750 885,749.5 901,765 917,760.2 933,757 949,754.2 965,752.2 981,751.7 997,746.2 1013,743.5 1029,741.2 1045,737.2 1061,737 1077,737 1093,741.7 1109,749 1125,755.7 1141,755.2 1157,755 1173,760 1189,755.7 1205,760.5 1221,763 1237,763 1253,762" fill="none" stroke="#1E90FF" stroke-width="2" shape-rendering="crispEdges"/>
<rect x="4" y="30" width="1614" height="1" fill="#000"/>
<rect x="4" y="608" width="1614" height="1" fill="#000"/>
<rect x="4" y="30" width="1" height="579" fill="#000"/>
<rect x="1617" y="30" width="1" height="579" fill="#000"/>
<rect x="4" y="610" width="1614" height="1" fill="#000"/>
<rect x="4" y="717" width="1614" height="1" fill="#000"/>
<rect x="4" y="610" width="1" height="108" fill="#000"/>
<rect x="1617" y="610" width="1" height="108" fill="#000"/>
<rect x="4" y="719" width="1614" height="1" fill="#000"/>
<rect x="4" y="819" width="1614" height="1" fill="#000"/>
<rect x="4" y="719" width="1" height="101" fill="#000"/>
<rect x="1617" y="719" width="1" height="101" fill="#000"/>
<rect x="1618" y="612" width="1" height="1" fill="#000"/>
<rect x="1618" y="716" width="1" height="1" fill="#000"/>
<rect x="1618" y="721" width="1" height="1" fill="#000"/>
<rect x="1618" y="818" width="1" height="1" fill="#000"/>
<rect x="4" y="92" width="6" height="6" fill="#FF0000"/>
<rect x="6" y="94" width="2" height="2" fill="#fff"/>
<rect x="1611" y="92" width="6" height="6" fill="#FF0000"/>
<rect x="1613" y="94" width="2" height="2" fill="#fff"/>
<rect x="4" y="130" width="6" height="6" fill="#FFA500"/>
<rect x="6" y="132" width="2" height="2" fill="#fff"/>
<rect x="1611" y="130" width="6" height="6" fill="#FFA500"/>
<rect x="1613" y="132" width="2" height="2" fill="#fff"/>
<rect x="4" y="177" width="6" height="6" fill="#0000FF"/>
<rect x="6" y="179" width="2" height="2" fill="#fff"/>
<rect x="1611" y="177" width="6" height="6" fill="#0000FF"/>
<rect x="1613" y="179" width="2" height="2" fill="#fff"/>
<rect x="4" y="212" width="6" height="6" fill="#0000FF"/>
<rect x="6" y="214" width="2" height="2" fill="#fff"/>
<rect x="1611" y="212" width="6" height="6" fill="#0000FF"/>
<rect x="1613" y="214" width="2" height="2" fill="#fff"/>
<rect x="1618" y="44" width="2" height="1" fill="#000"/>
<text x="1623" y="48" font-family="Liberation Sans, sans-serif" font-size="9.35" stroke-width="0.12" fill="#000" stroke="#000">6.99480</text>
<rect x="1618" y="77" width="2" height="1" fill="#000"/>
<text x="1623" y="81" font-family="Liberation Sans, sans-serif" font-size="9.35" stroke-width="0.12" fill="#000" stroke="#000">6.98150</text>
<rect x="1618" y="110" width="2" height="1" fill="#000"/>
<text x="1623" y="114" font-family="Liberation Sans, sans-serif" font-size="9.35" stroke-width="0.12" fill="#000" stroke="#000">6.96855</text>
<rect x="1618" y="143" width="2" height="1" fill="#000"/>
<text x="1623" y="147" font-family="Liberation Sans, sans-serif" font-size="9.35" stroke-width="0.12" fill="#000" stroke="#000">6.95525</text>
<rect x="1618" y="176" width="2" height="1" fill="#000"/>
<text x="1623" y="180" font-family="Liberation Sans, sans-serif" font-size="9.35" stroke-width="0.12" fill="#000" stroke="#000">6.94230</text>
<rect x="1618" y="209" width="2" height="1" fill="#000"/>
<text x="1623" y="213" font-family="Liberation Sans, sans-serif" font-size="9.35" stroke-width="0.12" fill="#000" stroke="#000">6.92900</text>
<rect x="1618" y="242" width="2" height="1" fill="#000"/>
<text x="1623" y="246" font-family="Liberation Sans, sans-serif" font-size="9.35" stroke-width="0.12" fill="#000" stroke="#000">6.91570</text>
<rect x="1618" y="275" width="2" height="1" fill="#000"/>
<text x="1623" y="279" font-family="Liberation Sans, sans-serif" font-size="9.35" stroke-width="0.12" fill="#000" stroke="#000">6.90275</text>
<rect x="1618" y="308" width="2" height="1" fill="#000"/>
<text x="1623" y="312" font-family="Liberation Sans, sans-serif" font-size="9.35" stroke-width="0.12" fill="#000" stroke="#000">6.88945</text>
<rect x="1618" y="341" width="2" height="1" fill="#000"/>
<text x="1623" y="345" font-family="Liberation Sans, sans-serif" font-size="9.35" stroke-width="0.12" fill="#000" stroke="#000">6.87650</text>
<rect x="1618" y="374" width="2" height="1" fill="#000"/>
<text x="1623" y="378" font-family="Liberation Sans, sans-serif" font-size="9.35" stroke-width="0.12" fill="#000" stroke="#000">6.86320</text>
<rect x="1618" y="407" width="2" height="1" fill="#000"/>
<text x="1623" y="411" font-family="Liberation Sans, sans-serif" font-size="9.35" stroke-width="0.12" fill="#000" stroke="#000">6.84990</text>
<rect x="1618" y="440" width="2" height="1" fill="#000"/>
<text x="1623" y="444" font-family="Liberation Sans, sans-serif" font-size="9.35" stroke-width="0.12" fill="#000" stroke="#000">6.83695</text>
<rect x="1618" y="473" width="2" height="1" fill="#000"/>
<text x="1623" y="477" font-family="Liberation Sans, sans-serif" font-size="9.35" stroke-width="0.12" fill="#000" stroke="#000">6.82365</text>
<rect x="1618" y="506" width="2" height="1" fill="#000"/>
<text x="1623" y="510" font-family="Liberation Sans, sans-serif" font-size="9.35" stroke-width="0.12" fill="#000" stroke="#000">6.81070</text>
<rect x="1618" y="539" width="2" height="1" fill="#000"/>
<text x="1623" y="543" font-family="Liberation Sans, sans-serif" font-size="9.35" stroke-width="0.12" fill="#000" stroke="#000">6.79740</text>
<rect x="1618" y="572" width="2" height="1" fill="#000"/>
<text x="1623" y="576" font-family="Liberation Sans, sans-serif" font-size="9.35" stroke-width="0.12" fill="#000" stroke="#000">6.78410</text>
<rect x="1618" y="605" width="2" height="1" fill="#000"/>
<text x="1623" y="609" font-family="Liberation Sans, sans-serif" font-size="9.35" stroke-width="0.12" fill="#000" stroke="#000">6.77115</text>
<rect x="1619" y="51" width="41" height="11" fill="#FF0000"/>
<text x="1623" y="60" font-family="Liberation Sans, sans-serif" font-size="9.35" stroke-width="0.12" fill="#fff" stroke="#fff">6.98945</text>
<rect x="1619" y="89" width="41" height="11" fill="#FF0000"/>
<text x="1623" y="98" font-family="Liberation Sans, sans-serif" font-size="9.35" stroke-width="0.12" fill="#fff" stroke="#fff">6.97432</text>
<rect x="1619" y="127" width="41" height="11" fill="#FFA500"/>
<text x="1623" y="136" font-family="Liberation Sans, sans-serif" font-size="9.35" stroke-width="0.12" fill="#fff" stroke="#fff">6.95919</text>
<rect x="1619" y="174" width="41" height="11" fill="#0000FF"/>
<text x="1623" y="183" font-family="Liberation Sans, sans-serif" font-size="9.35" stroke-width="0.12" fill="#fff" stroke="#fff">6.94048</text>
<rect x="1619" y="209" width="41" height="11" fill="#0000FF"/>
<text x="1623" y="218" font-family="Liberation Sans, sans-serif" font-size="9.35" stroke-width="0.12" fill="#fff" stroke="#fff">6.92655</text>
<rect x="1619" y="144" width="41" height="11" fill="#000"/>
<text x="1623" y="153" font-family="Liberation Sans, sans-serif" font-size="9.35" stroke-width="0.12" fill="#fff" stroke="#fff">6.95298</text>
<text x="1621" y="621" font-family="Liberation Sans, sans-serif" font-size="9.35" stroke-width="0.12" fill="#000" stroke="#000">0.028227</text>
<text x="1621" y="714" font-family="Liberation Sans, sans-serif" font-size="9.35" stroke-width="0.12" fill="#000" stroke="#000">0</text>
<text x="1621" y="730" font-family="Liberation Sans, sans-serif" font-size="9.35" stroke-width="0.12" fill="#000" stroke="#000">100</text>
<text x="1621" y="744" font-family="Liberation Sans, sans-serif" font-size="9.35" stroke-width="0.12" fill="#000" stroke="#000">80</text>
<text x="1621" y="773" font-family="Liberation Sans, sans-serif" font-size="9.35" stroke-width="0.12" fill="#000" stroke="#000">50</text>
<text x="1621" y="808" font-family="Liberation Sans, sans-serif" font-size="9.35" stroke-width="0.12" fill="#000" stroke="#000">15</text>
<text x="1621" y="816" font-family="Liberation Sans, sans-serif" font-size="9.35" stroke-width="0.12" fill="#000" stroke="#000">0</text>
<polygon points="8,37 15,37 11.5,41" fill="#000"/>
<text x="20.2" y="42" font-family="Liberation Sans, sans-serif" font-size="9.35" stroke-width="0.12" fill="#000" textLength="58.2" lengthAdjust="spacing">USDCNH-,H4</text>
<text x="84.9" y="42" font-family="Liberation Sans, sans-serif" font-size="9.35" stroke-width="0.12" fill="#000" textLength="140.6" lengthAdjust="spacing">6.95256 6.95491 6.94876 6.95298</text>
<text x="9" y="623" font-family="Liberation Sans, sans-serif" font-size="9.35" stroke-width="0.12" fill="#000" stroke="#000">MACD(12,26,9) 0.013718 0.019342</text>
<text x="9" y="732" font-family="Liberation Sans, sans-serif" font-size="9.35" stroke-width="0.12" fill="#000" stroke="#000">RSI(14) 57.5495</text>
<rect x="5" y="820" width="1" height="3" fill="#000"/>
<text x="4.5" y="832" font-family="Liberation Sans, sans-serif" font-size="9.35" stroke-width="0.12" fill="#000" stroke="#000">9 Feb 2023</text>
<rect x="69" y="820" width="1" height="3" fill="#000"/>
<text x="68.5" y="832" font-family="Liberation Sans, sans-serif" font-size="9.35" stroke-width="0.12" fill="#000" stroke="#000">10 Feb 00:00</text>
<rect x="133" y="820" width="1" height="3" fill="#000"/>
<text x="132.5" y="832" font-family="Liberation Sans, sans-serif" font-size="9.35" stroke-width="0.12" fill="#000" stroke="#000">10 Feb 16:00</text>
<rect x="197" y="820" width="1" height="3" fill="#000"/>
<text x="196.5" y="832" font-family="Liberation Sans, sans-serif" font-size="9.35" stroke-width="0.12" fill="#000" stroke="#000">13 Feb 12:00</text>
<rect x="261" y="820" width="1" height="3" fill="#000"/>
<text x="260.5" y="832" font-family="Liberation Sans, sans-serif" font-size="9.35" stroke-width="0.12" fill="#000" stroke="#000">14 Feb 04:00</text>
<rect x="325" y="820" width="1" height="3" fill="#000"/>
<text x="324.5" y="832" font-family="Liberation Sans, sans-serif" font-size="9.35" stroke-width="0.12" fill="#000" stroke="#000">14 Feb 20:00</text>
<rect x="389" y="820" width="1" height="3" fill="#000"/>
<text x="388.5" y="832" font-family="Liberation Sans, sans-serif" font-size="9.35" stroke-width="0.12" fill="#000" stroke="#000">15 Feb 12:00</text>
<rect x="453" y="820" width="1" height="3" fill="#000"/>
<text x="452.5" y="832" font-family="Liberation Sans, sans-serif" font-size="9.35" stroke-width="0.12" fill="#000" stroke="#000">16 Feb 04:00</text>
<rect x="517" y="820" width="1" height="3" fill="#000"/>
<text x="516.5" y="832" font-family="Liberation Sans, sans-serif" font-size="9.35" stroke-width="0.12" fill="#000" stroke="#000">16 Feb 20:00</text>
<rect x="581" y="820" width="1" height="3" fill="#000"/>
<text x="580.5" y="832" font-family="Liberation Sans, sans-serif" font-size="9.35" stroke-width="0.12" fill="#000" stroke="#000">17 Feb 12:00</text>
<rect x="645" y="820" width="1" height="3" fill="#000"/>
<text x="644.5" y="832" font-family="Liberation Sans, sans-serif" font-size="9.35" stroke-width="0.12" fill="#000" stroke="#000">20 Feb 08:00</text>
<rect x="709" y="820" width="1" height="3" fill="#000"/>
<text x="708.5" y="832" font-family="Liberation Sans, sans-serif" font-size="9.35" stroke-width="0.12" fill="#000" stroke="#000">21 Feb 00:00</text>
<rect x="773" y="820" width="1" height="3" fill="#000"/>
<text x="772.5" y="832" font-family="Liberation Sans, sans-serif" font-size="9.35" stroke-width="0.12" fill="#000" stroke="#000">21 Feb 16:00</text>
<rect x="837" y="820" width="1" height="3" fill="#000"/>
<text x="836.5" y="832" font-family="Liberation Sans, sans-serif" font-size="9.35" stroke-width="0.12" fill="#000" stroke="#000">22 Feb 08:00</text>
<rect x="901" y="820" width="1" height="3" fill="#000"/>
<text x="900.5" y="832" font-family="Liberation Sans, sans-serif" font-size="9.35" stroke-width="0.12" fill="#000" stroke="#000">23 Feb 00:00</text>
<rect x="965" y="820" width="1" height="3" fill="#000"/>
<text x="964.5" y="832" font-family="Liberation Sans, sans-serif" font-size="9.35" stroke-width="0.12" fill="#000" stroke="#000">23 Feb 16:00</text>
<rect x="1029" y="820" width="1" height="3" fill="#000"/>
<text x="1028.5" y="832" font-family="Liberation Sans, sans-serif" font-size="9.35" stroke-width="0.12" fill="#000" stroke="#000">24 Feb 08:00</text>
<rect x="1093" y="820" width="1" height="3" fill="#000"/>
<text x="1092.5" y="832" font-family="Liberation Sans, sans-serif" font-size="9.35" stroke-width="0.12" fill="#000" stroke="#000">27 Feb 04:00</text>
<rect x="1157" y="820" width="1" height="3" fill="#000"/>
<text x="1156.5" y="832" font-family="Liberation Sans, sans-serif" font-size="9.35" stroke-width="0.12" fill="#000" stroke="#000">27 Feb 20:00</text>
<rect x="1221" y="820" width="1" height="3" fill="#000"/>
<text x="1220.5" y="832" font-family="Liberation Sans, sans-serif" font-size="9.35" stroke-width="0.12" fill="#000" stroke="#000">28 Feb 12:00</text>
</svg>
</body></html>
